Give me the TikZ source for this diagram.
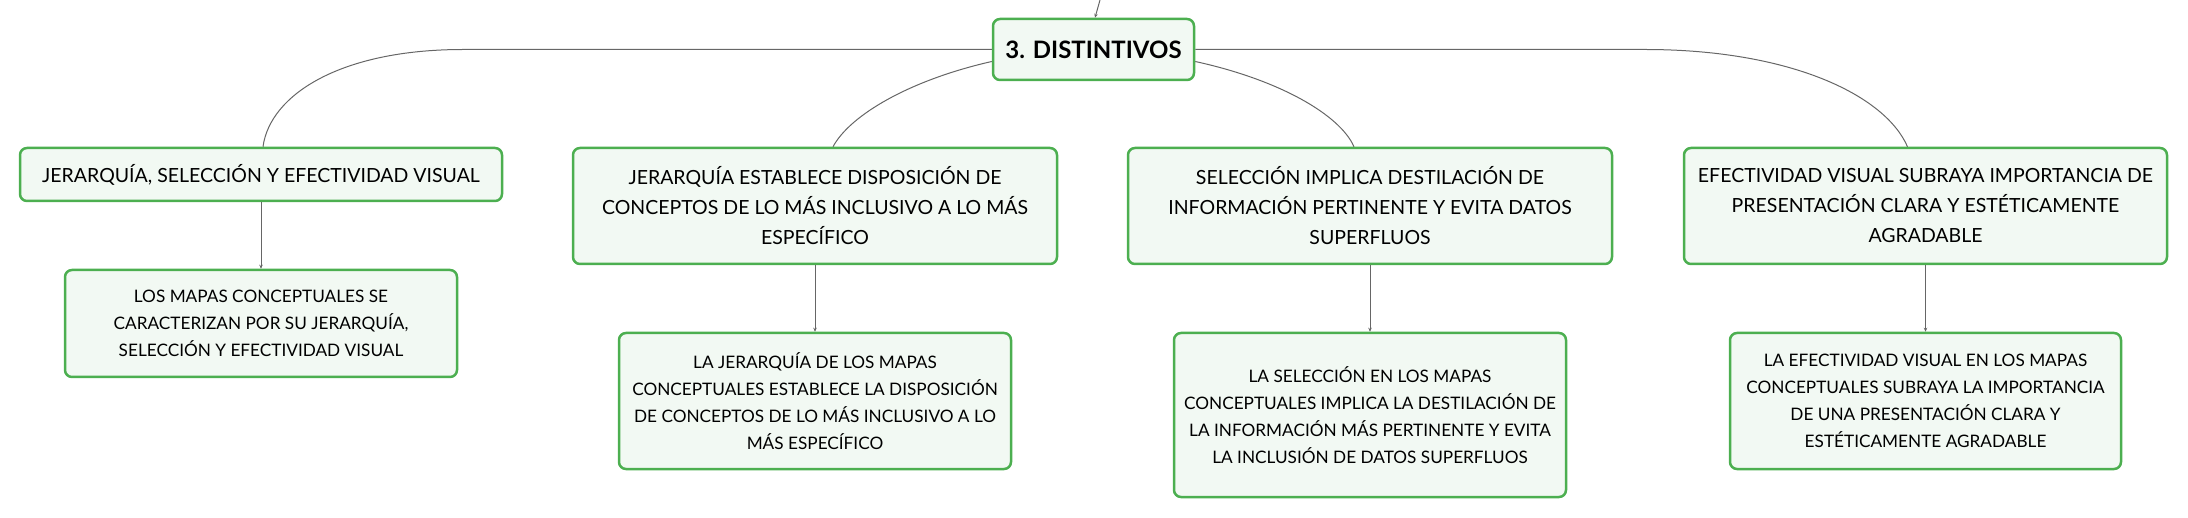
\documentclass[tikz,border=0pt]{standalone}
\usepackage{fontspec}
\setmainfont{Lato}
\usepackage{xcolor}
\usepackage{tikz}
\usetikzlibrary{arrows.meta}

\definecolor{boxgreen}{HTML}{4CAF50}
\definecolor{boxfill}{HTML}{F2F9F3}
\definecolor{linkgray}{HTML}{666666}

\begin{document}
\begin{tikzpicture}[x=1pt, y=-1pt,
  topic/.style={rectangle, rounded corners=7pt, draw=boxgreen, line width=2.5pt, fill=boxfill, align=center, inner sep=0pt},
  sub/.style={topic, font=\fontsize{19.5}{30}\selectfont},
  detail/.style={topic, font=\fontsize{17.2}{27}\selectfont},
  link/.style={draw=linkgray, line width=1pt},
  down/.style={link, -{Stealth[length=4pt, width=3.5pt]}}
]
\useasboundingbox (0,0) rectangle (2188,518);

\node[topic, minimum width=201pt, minimum height=61pt, font=\fontsize{24}{28}\selectfont\bfseries] (root) at (1093.5,49.5) {3. DISTINTIVOS};
\coordinate (up) at (1100,0);

\node[sub, minimum width=482pt, minimum height=53pt] (jer) at (261,174.5) {JERARQUÍA, SELECCIÓN Y EFECTIVIDAD VISUAL};
\node[sub, minimum width=484pt, minimum height=116pt] (disp) at (815,206) {JERARQUÍA ESTABLECE DISPOSICIÓN DE\\CONCEPTOS DE LO MÁS INCLUSIVO A LO MÁS\\ESPECÍFICO};
\node[sub, minimum width=484pt, minimum height=116pt] (sel) at (1370,206) {SELECCIÓN IMPLICA DESTILACIÓN DE\\INFORMACIÓN PERTINENTE Y EVITA DATOS\\SUPERFLUOS};
\node[sub, minimum width=483pt, minimum height=116pt] (efe) at (1925.5,206) {EFECTIVIDAD VISUAL SUBRAYA IMPORTANCIA DE\\PRESENTACIÓN CLARA Y ESTÉTICAMENTE\\AGRADABLE};

\node[detail, minimum width=392pt, minimum height=107pt] (jerd) at (261,323.5) {LOS MAPAS CONCEPTUALES SE\\CARACTERIZAN POR SU JERARQUÍA,\\SELECCIÓN Y EFECTIVIDAD VISUAL};
\node[detail, minimum width=392pt, minimum height=136pt] (dispd) at (815,401) {LA JERARQUÍA DE LOS MAPAS\\CONCEPTUALES ESTABLECE LA DISPOSICIÓN\\DE CONCEPTOS DE LO MÁS INCLUSIVO A LO\\MÁS ESPECÍFICO};
\node[detail, minimum width=392pt, minimum height=164pt] (seld) at (1370,415) {LA SELECCIÓN EN LOS MAPAS\\CONCEPTUALES IMPLICA LA DESTILACIÓN DE\\LA INFORMACIÓN MÁS PERTINENTE Y EVITA\\LA INCLUSIÓN DE DATOS SUPERFLUOS};
\node[detail, minimum width=391pt, minimum height=136pt] (efed) at (1925.5,401) {LA EFECTIVIDAD VISUAL EN LOS MAPAS\\CONCEPTUALES SUBRAYA LA IMPORTANCIA\\DE UNA PRESENTACIÓN CLARA Y\\ESTÉTICAMENTE AGRADABLE};

\draw[down] (up) -- ([xshift=1.5pt]root.north);

\draw[link] (root.west) -- (463,49.5) .. controls (340,49.5) and (270,95) .. ([xshift=2pt]jer.north);
\draw[link] ([yshift=-12pt]root.west) .. controls (910,80) and (850,115) .. ([xshift=18pt]disp.north);
\draw[link] ([yshift=-12pt]root.east) .. controls (1280,80) and (1340,115) .. ([xshift=-16pt]sel.north);
\draw[link] (root.east) -- (1645,49.5) .. controls (1790,49.5) and (1885,95) .. ([xshift=-18pt]efe.north);

\draw[down] (jer) -- (jerd);
\draw[down] (disp) -- (dispd);
\draw[down] (sel) -- (seld);
\draw[down] (efe) -- (efed);

\end{tikzpicture}
\end{document}
